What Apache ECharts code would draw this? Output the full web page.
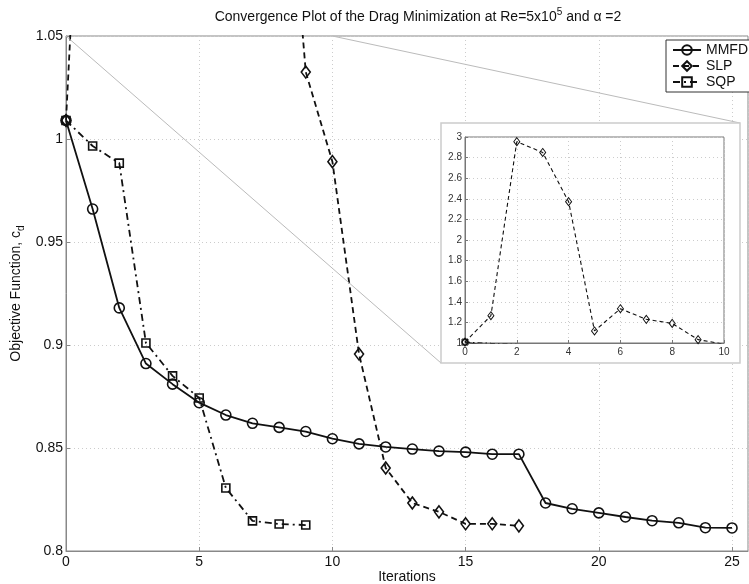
<!DOCTYPE html>
<html>
<head>
<meta charset="utf-8">
<script src="https://cdn.jsdelivr.net/npm/echarts@6/dist/echarts.min.js"></script>
<style>
  html, body { margin: 0; padding: 0; background: #fff; }
  #main { width: 749px; height: 584px; }
</style>
</head>
<body>
<div id="main"></div>
<script>
// values
var seriesNames = ['MMFD', 'SLP', 'SQP'];
var mmfd = [1.009, 0.966, 0.918, 0.891, 0.881, 0.872, 0.866, 0.862, 0.860, 0.858, 0.8545, 0.852, 0.8505, 0.8495,
  0.8485, 0.848, 0.847, 0.847, 0.8233, 0.8205, 0.8185, 0.8165, 0.8147, 0.8137, 0.8113, 0.8112];
var slp = [1.009, 1.265, 2.955, 2.85, 2.372, 1.117, 1.333, 1.23, 1.19, 1.0325, 0.989, 0.8956, 0.8403, 0.8233,
  0.819, 0.8132, 0.8132, 0.8122];
var sqp = [1.009, 0.9966, 0.9883, 0.901, 0.885, 0.8743, 0.8306, 0.8146, 0.8131, 0.8126];
var mainYTicks = [0.8, 1.05, 0.05];   // min, max, step
var insetYTicks = [1, 3, 0.2];
var insetXTicks = [0, 10, 2];

var font = 'Liberation Sans, Arial, Helvetica, sans-serif';
var ink = '#111';

function pairs(arr) {
  return arr.map(function (v, i) { return [i, v]; });
}

// marker / line styles per series
var styles = {
  MMFD: { symbol: 'circle', size: 10, dash: 'solid', dashSmall: 'solid' },
  SLP: { symbol: 'diamond', size: [9, 12], dash: [6, 4], dashSmall: [4, 3] },
  SQP: { symbol: 'rect', size: 8, dash: [7, 4, 2, 4], dashSmall: [5, 3, 1.5, 3] }
};
var values = { MMFD: mmfd, SLP: slp, SQP: sqp };

var chart = echarts.init(document.getElementById('main'));

var series = [];
seriesNames.forEach(function (name) {
  var s = styles[name];
  series.push({
    name: name,
    type: 'line',
    xAxisIndex: 0,
    yAxisIndex: 0,
    data: pairs(values[name]),
    symbol: s.symbol,
    symbolSize: s.size,
    showAllSymbol: true,
    z: 2,
    lineStyle: { color: ink, width: 1.8, type: s.dash },
    itemStyle: { color: 'rgba(255,255,255,0)', borderColor: ink, borderWidth: 1.6 },
    emphasis: { disabled: true }
  });
});
// inset: same data, zoomed view
seriesNames.forEach(function (name) {
  var s = styles[name];
  series.push({
    name: name + '_inset',
    type: 'line',
    xAxisIndex: 1,
    yAxisIndex: 1,
    data: pairs(values[name]),
    symbol: s.symbol,
    symbolSize: name === 'SLP' ? [6, 8] : 6,
    z: 12,
    lineStyle: { color: ink, width: 1.1, type: s.dashSmall },
    itemStyle: { color: 'rgba(255,255,255,0)', borderColor: ink, borderWidth: 1 },
    emphasis: { disabled: true }
  });
});

chart.setOption({
  animation: false,
  backgroundColor: '#fff',
  textStyle: { fontFamily: font },
  title: {
    text: 'Convergence Plot of the Drag Minimization at Re=5x10{sup|5} and \u03b1 =2',
    left: 413,
    top: 2,
    textAlign: 'center',
    textStyle: {
      fontFamily: font, fontSize: 14, fontWeight: 'normal', color: ink, lineHeight: 20,
      rich: { sup: { fontFamily: font, fontSize: 10, color: ink, verticalAlign: 'top', lineHeight: 20 } }
    }
  },
  legend: {
    data: seriesNames,
    orient: 'vertical',
    left: 666,
    top: 40,
    padding: [3, 12, 3, 6],
    itemGap: 2,
    itemWidth: 28,
    itemHeight: 12,
    backgroundColor: '#fff',
    borderColor: '#333',
    borderWidth: 1,
    borderRadius: 0,
    z: 20,
    textStyle: { fontFamily: font, fontSize: 14, color: ink }
  },
  grid: [
    { left: 66, top: 36, width: 682, height: 515, show: true, borderColor: '#888', borderWidth: 1, z: 0,
      outerBoundsMode: 'none', containLabel: false },
    { left: 465, top: 137, width: 259, height: 206, show: true, borderColor: '#777', borderWidth: 1, z: 10,
      outerBoundsMode: 'none', containLabel: false }
  ],
  xAxis: [
    {
      type: 'value', gridIndex: 0, min: 0, max: 25.6, interval: 5,
      name: 'Iterations', nameLocation: 'middle', nameGap: 19, nameMoveOverlap: false,
      nameTextStyle: { fontFamily: font, fontSize: 14, color: ink },
      axisLine: { lineStyle: { color: '#888' } },
      axisTick: { inside: true, length: 4, lineStyle: { color: '#888' } },
      axisLabel: { fontFamily: font, fontSize: 14, color: ink, margin: 4, showMaxLabel: false },
      splitLine: { show: true, lineStyle: { color: '#ccc', type: [1, 3] } }
    },
    {
      type: 'value', gridIndex: 1, min: insetXTicks[0], max: insetXTicks[1], interval: insetXTicks[2], z: 10,
      axisLine: { lineStyle: { color: '#777' } },
      axisTick: { inside: true, length: 3, lineStyle: { color: '#777' } },
      axisLabel: { fontFamily: font, fontSize: 10, color: '#333', margin: 4 },
      splitLine: { show: true, lineStyle: { color: '#ccc', type: [1, 3] } }
    }
  ],
  yAxis: [
    {
      type: 'value', gridIndex: 0, min: mainYTicks[0], max: mainYTicks[1], interval: mainYTicks[2],
      name: 'Objective Function, c{sub|d}', nameLocation: 'middle', nameGap: 40, nameMoveOverlap: false,
      nameTextStyle: {
        fontFamily: font, fontSize: 14, color: ink, lineHeight: 20,
        rich: { sub: { fontFamily: font, fontSize: 10, color: ink, verticalAlign: 'bottom', lineHeight: 20 } }
      },
      axisLine: { show: true, lineStyle: { color: '#888' } },
      axisTick: { show: true, inside: true, length: 4, lineStyle: { color: '#888' } },
      axisLabel: { fontFamily: font, fontSize: 14, color: ink, margin: 3 },
      splitLine: { show: true, lineStyle: { color: '#ccc', type: [1, 3] } }
    },
    {
      type: 'value', gridIndex: 1, min: insetYTicks[0], max: insetYTicks[1], interval: insetYTicks[2], z: 10,
      axisLine: { show: true, lineStyle: { color: '#777' } },
      axisTick: { show: true, inside: true, length: 3, lineStyle: { color: '#777' } },
      axisLabel: { fontFamily: font, fontSize: 10, color: '#333', margin: 3 },
      splitLine: { show: true, lineStyle: { color: '#ccc', type: [1, 3] } }
    }
  ],
  series: series
});

// inset frame and the two zoom lines
var boxL = 441, boxT = 123, boxR = 740, boxB = 363;
var p0 = chart.convertToPixel({ gridIndex: 0 }, [0, mainYTicks[1]]);
var p10 = chart.convertToPixel({ gridIndex: 0 }, [insetXTicks[1], mainYTicks[1]]);
chart.setOption({
  graphic: [
    { type: 'line', z: 4, silent: true, shape: { x1: p0[0], y1: p0[1], x2: boxL, y2: boxB },
      style: { stroke: '#bbb', lineWidth: 1 } },
    { type: 'line', z: 4, silent: true, shape: { x1: p10[0], y1: p10[1], x2: boxR, y2: boxT },
      style: { stroke: '#bbb', lineWidth: 1 } },
    { type: 'rect', z: 6, silent: true, shape: { x: boxL, y: boxT, width: boxR - boxL, height: boxB - boxT },
      style: { fill: '#fff', stroke: '#ccc', lineWidth: 1.5 } }
  ]
});
</script>
</body>
</html>
